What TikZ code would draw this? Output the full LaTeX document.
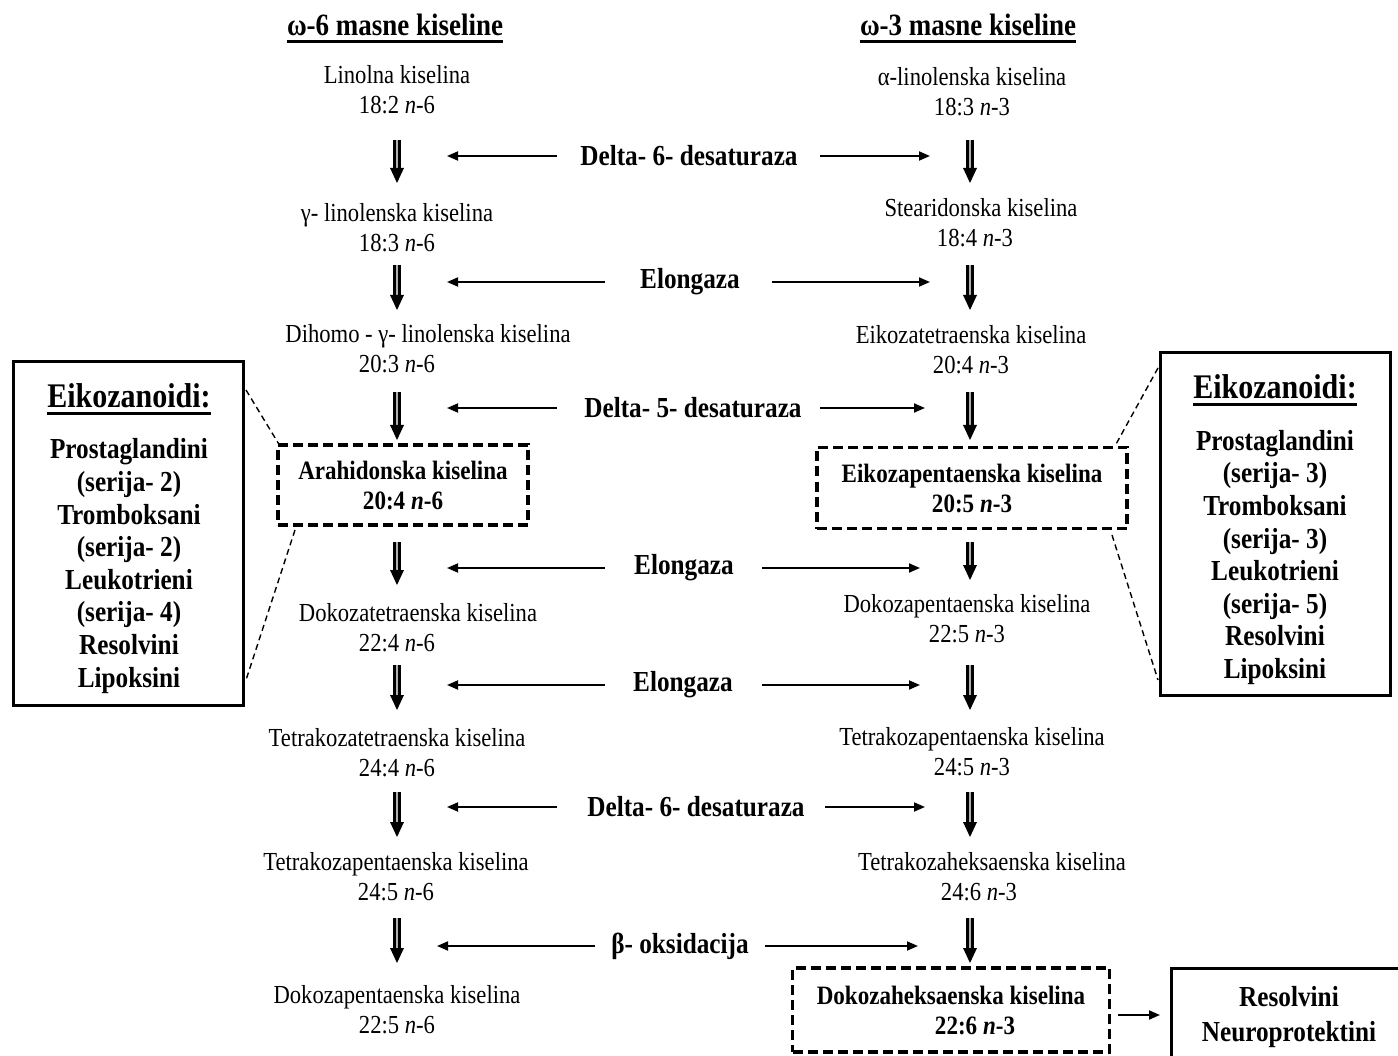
\documentclass[tikz,border=0pt]{standalone}
\usepackage{fontspec}
\setmainfont{Liberation Serif}[FakeStretch=0.87]
\usetikzlibrary{arrows.meta,calc}
\newcommand\dnarrow[2]{%
  \draw[shaft] (#1) -- ($(#2)+(0,-13)$);
  \fill ($(#2)+(-7,-15)$) -- ($(#2)+(7,-15)$) -- (#2) -- cycle;}
\begin{document}
\begin{tikzpicture}[x=1pt,y=-1pt,
  acid/.style={align=center, inner sep=0pt, font=\fontsize{26}{30}\selectfont},
  enz/.style={inner sep=0pt, font=\bfseries\fontsize{29}{30}\selectfont},
  hdr/.style={inner sep=0pt, font=\bfseries\fontsize{31}{32}\selectfont},
  dbox/.style={draw, line width=3.4pt, dash pattern=on 10pt off 5pt, align=center, inner sep=0pt,
     font=\bfseries\fontsize{26.5}{30}\selectfont},
  ebox/.style={draw, line width=3pt, inner sep=0pt},
  ehead/.style={inner sep=0pt, font=\bfseries\fontsize{34.5}{36}\selectfont},
  eitem/.style={align=center, inner sep=0pt, font=\bfseries\fontsize{29}{32.6}\selectfont},
  shaft/.style={line width=2.6pt, double=black!30, double distance=2pt},
  harrow/.style={line width=1.8pt, -{Triangle[length=11pt,width=9pt]}},
  ulin/.style={line width=2.5pt},
  conn/.style={line width=1.4pt, dash pattern=on 6pt off 4pt}
]
\useasboundingbox (0,0) rectangle (1398,1056);

% headers
\node[hdr] (h6) at (395,25) {ω-6 masne kiseline};
\node[hdr] (h3) at (968,25) {ω-3 masne kiseline};
\draw[ulin] ($(h6.base west)+(0,6)$) -- ($(h6.base east)+(0,6)$);
\draw[ulin] ($(h3.base west)+(0,6)$) -- ($(h3.base east)+(0,6)$);

% omega-6 column
\node[acid] (L1) at (397,90) {Linolna kiselina\\18:2 \textit{n}-6};
\node[acid] (L2) at (397,228) {γ- linolenska kiselina\\18:3 \textit{n}-6};
\node[acid] (L3) at (397,349) {\hspace*{62pt}Dihomo - γ- linolenska kiselina\\20:3 \textit{n}-6};
\node[dbox, minimum width=250pt, minimum height=80pt] (L4) at (403,485) {Arahidonska kiselina\\20:4 \textit{n}-6};
\node[acid] (L5) at (397,628) {\hspace*{42pt}Dokozatetraenska kiselina\\22:4 \textit{n}-6};
\node[acid] (L6) at (397,753) {Tetrakozatetraenska kiselina\\24:4 \textit{n}-6};
\node[acid] (L7) at (396,877) {Tetrakozapentaenska kiselina\\24:5 \textit{n}-6};
\node[acid] (L8) at (397,1010) {Dokozapentaenska kiselina\\22:5 \textit{n}-6};

% omega-3 column
\node[acid] (R1) at (972,92) {α-linolenska kiselina\\18:3 \textit{n}-3};
\node[acid] (R2) at (975,223) {\hspace*{12pt}Stearidonska kiselina\\18:4 \textit{n}-3};
\node[acid] (R3) at (971,350) {Eikozatetraenska kiselina\\20:4 \textit{n}-3};
\node[dbox, minimum width=310pt, minimum height=81pt] (R4) at (972,488) {Eikozapentaenska kiselina\\20:5 \textit{n}-3};
\node[acid] (R5) at (967,619) {Dokozapentaenska kiselina\\22:5 \textit{n}-3};
\node[acid] (R6) at (972,752) {Tetrakozapentaenska kiselina\\24:5 \textit{n}-3};
\node[acid] (R7) at (979,877) {\hspace*{26pt}Tetrakozaheksaenska kiselina\\24:6 \textit{n}-3};
\node[dbox, minimum width=317pt, minimum height=84pt] (R8) at (951,1010) {Dokozaheksaenska kiselina\\\hspace*{48pt}22:6 \textit{n}-3};

% down arrows
\foreach \t/\b [count=\i] in {140/183,265/310,392/440,542/585,665/710,792/837,918/963}{
  \coordinate (la\i) at (397,\t); \coordinate (lb\i) at (397,\b);
  \dnarrow{la\i}{lb\i}
}
\foreach \t/\b [count=\i] in {140/183,265/310,392/440,542/580,665/710,792/837,918/963}{
  \coordinate (ra\i) at (970,\t); \coordinate (rb\i) at (970,\b);
  \dnarrow{ra\i}{rb\i}
}

% enzymes
\foreach \txt/\cx/\y/\ls/\lt/\rs/\rt [count=\i] in {
  Delta- 6- desaturaza/689/156/557/447/820/930,
  Elongaza/690/282/605/447/772/930,
  Delta- 5- desaturaza/693/408/557/447/820/925,
  Elongaza/684/568/605/447/762/920,
  Elongaza/683/685/605/447/762/920,
  Delta- 6- desaturaza/696/807/557/447/825/925,
  β- oksidacija/680/946/595/437/765/918}{
  \node[enz] (E\i) at (\cx,\y) {\txt};
  \coordinate (els\i) at (\ls,\y); \coordinate (elt\i) at (\lt,\y);
  \coordinate (ers\i) at (\rs,\y); \coordinate (ert\i) at (\rt,\y);
  \draw[harrow] (els\i) -- (elt\i);
  \draw[harrow] (ers\i) -- (ert\i);
}

% left eicosanoid box
\node[ebox, minimum width=230pt, minimum height=343pt] (BL) at (128,533.5) {};
\node[ehead] (BLh) at (129,396) {Eikozanoidi:};
\draw[ulin] ($(BLh.base west)+(0,6)$) -- ($(BLh.base east)+(0,6)$);
\node[eitem] (BLi) at (129,566) {Prostaglandini\\(serija- 2)\\Tromboksani\\(serija- 2)\\Leukotrieni\\(serija- 4)\\Resolvini\\Lipoksini};

% right eicosanoid box
\node[ebox, minimum width=230pt, minimum height=342pt] (BR) at (1275,524) {};
\node[ehead] (BRh) at (1275,387) {Eikozanoidi:};
\draw[ulin] ($(BRh.base west)+(0,6)$) -- ($(BRh.base east)+(0,6)$);
\node[eitem] (BRi) at (1275,557.5) {Prostaglandini\\(serija- 3)\\Tromboksani\\(serija- 3)\\Leukotrieni\\(serija- 5)\\Resolvini\\Lipoksini};

% dashed connectors
\coordinate (c1) at (246,390); \coordinate (c2) at (280,446);
\coordinate (c3) at (295,530); \coordinate (c4) at (246,680);
\coordinate (c5) at (1158,368); \coordinate (c6) at (1115,446);
\coordinate (c7) at (1112,535); \coordinate (c8) at (1158,680);
\draw[conn] (c1) -- (c2);
\draw[conn] (c3) -- (c4);
\draw[conn] (c5) -- (c6);
\draw[conn] (c7) -- (c8);

% resolvini box
\draw[line width=3pt] (1171,1070) -- (1171,968) -- (1410,968);
\node[eitem] (RN) at (1289,1017) {Resolvini\\[2pt]Neuroprotektini};
\coordinate (da) at (1118,1015); \coordinate (db) at (1160,1015);
\draw[harrow] (da) -- (db);
\end{tikzpicture}
\end{document}
